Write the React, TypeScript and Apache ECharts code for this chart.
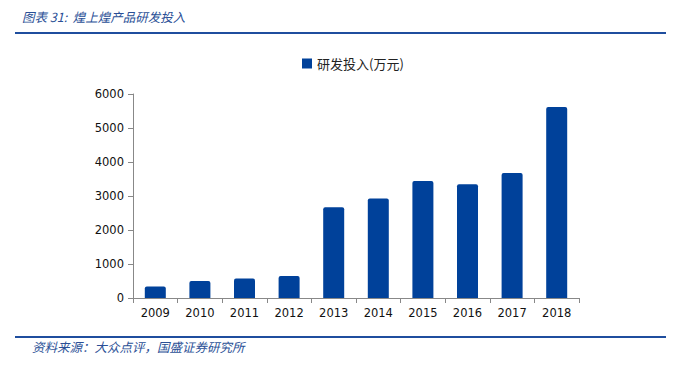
import React, { useEffect, useRef } from "react";
import * as echarts from "echarts";

const categories = ["2009", "2010", "2011", "2012", "2013", "2014", "2015", "2016", "2017", "2018"];
const rdValues = [340, 500, 575, 645, 2670, 2930, 3440, 3345, 3675, 5620];
const seriesName = "研发投入(万元)";
const titleText = "图表 31:  煌上煌产品研发投入";
const sourceText = "资料来源：大众点评，国盛证券研究所";

export default function App() {
  const ref = useRef<HTMLDivElement>(null);
  useEffect(() => {
    const chart = echarts.init(ref.current!, undefined, { renderer: "svg" });
    const blue = "#00419A";
    const lineBlue = "#1F4E9E";
    chart.setOption({
      animation: false,
      backgroundColor: "#fff",
      legend: {
        data: [seriesName],
        top: 52,
        left: 297,
        itemWidth: 10,
        itemHeight: 10,
        itemGap: 4,
        icon: "rect",
        textStyle: { fontFamily: "Noto Sans CJK SC", fontSize: 13, color: "#222" },
      },
      grid: { left: 133, right: 97, top: 94, bottom: 69 },
      xAxis: {
        type: "category",
        data: categories,
        axisLine: { lineStyle: { color: "#888", width: 1 } },
        axisTick: { show: true, alignWithLabel: false, length: 5, lineStyle: { color: "#888" } },
        axisLabel: { color: "#111", fontFamily: "DejaVu Sans", fontSize: 11.5, margin: 9 },
      },
      yAxis: {
        type: "value",
        min: 0,
        max: 6000,
        interval: 1000,
        splitLine: { show: false },
        axisLine: { show: true, lineStyle: { color: "#888", width: 1 } },
        axisTick: { show: true, length: 5, lineStyle: { color: "#888" } },
        axisLabel: {
          color: "#111",
          fontFamily: "DejaVu Sans",
          fontSize: 11.5,
          margin: 9,
          formatter: (v: number) => String(v),
        },
      },
      series: [
        {
          name: seriesName,
          type: "bar",
          data: rdValues,
          barWidth: 21,
          itemStyle: { color: blue, borderRadius: [2, 2, 0, 0] },
        },
      ],
      graphic: [
        {
          type: "text",
          left: 22,
          top: 10,
          style: {
            text: titleText,
            fill: "#2A4F96",
            font: "italic 12.5px 'Noto Sans CJK SC'",
          },
        },
        {
          type: "rect",
          shape: { x: 15, y: 32, width: 651, height: 2 },
          style: { fill: lineBlue },
        },
        {
          type: "rect",
          shape: { x: 15, y: 336, width: 651, height: 2 },
          style: { fill: lineBlue },
        },
        {
          type: "text",
          left: 32,
          top: 340,
          style: {
            text: sourceText,
            fill: "#2A4F96",
            font: "italic 12.5px 'Noto Sans CJK SC'",
          },
        },
      ],
    });
    return () => chart.dispose();
  }, []);
  return <div ref={ref} style={{ width: 676, height: 367, position: "absolute", left: 0, top: 0 }} />;
}
